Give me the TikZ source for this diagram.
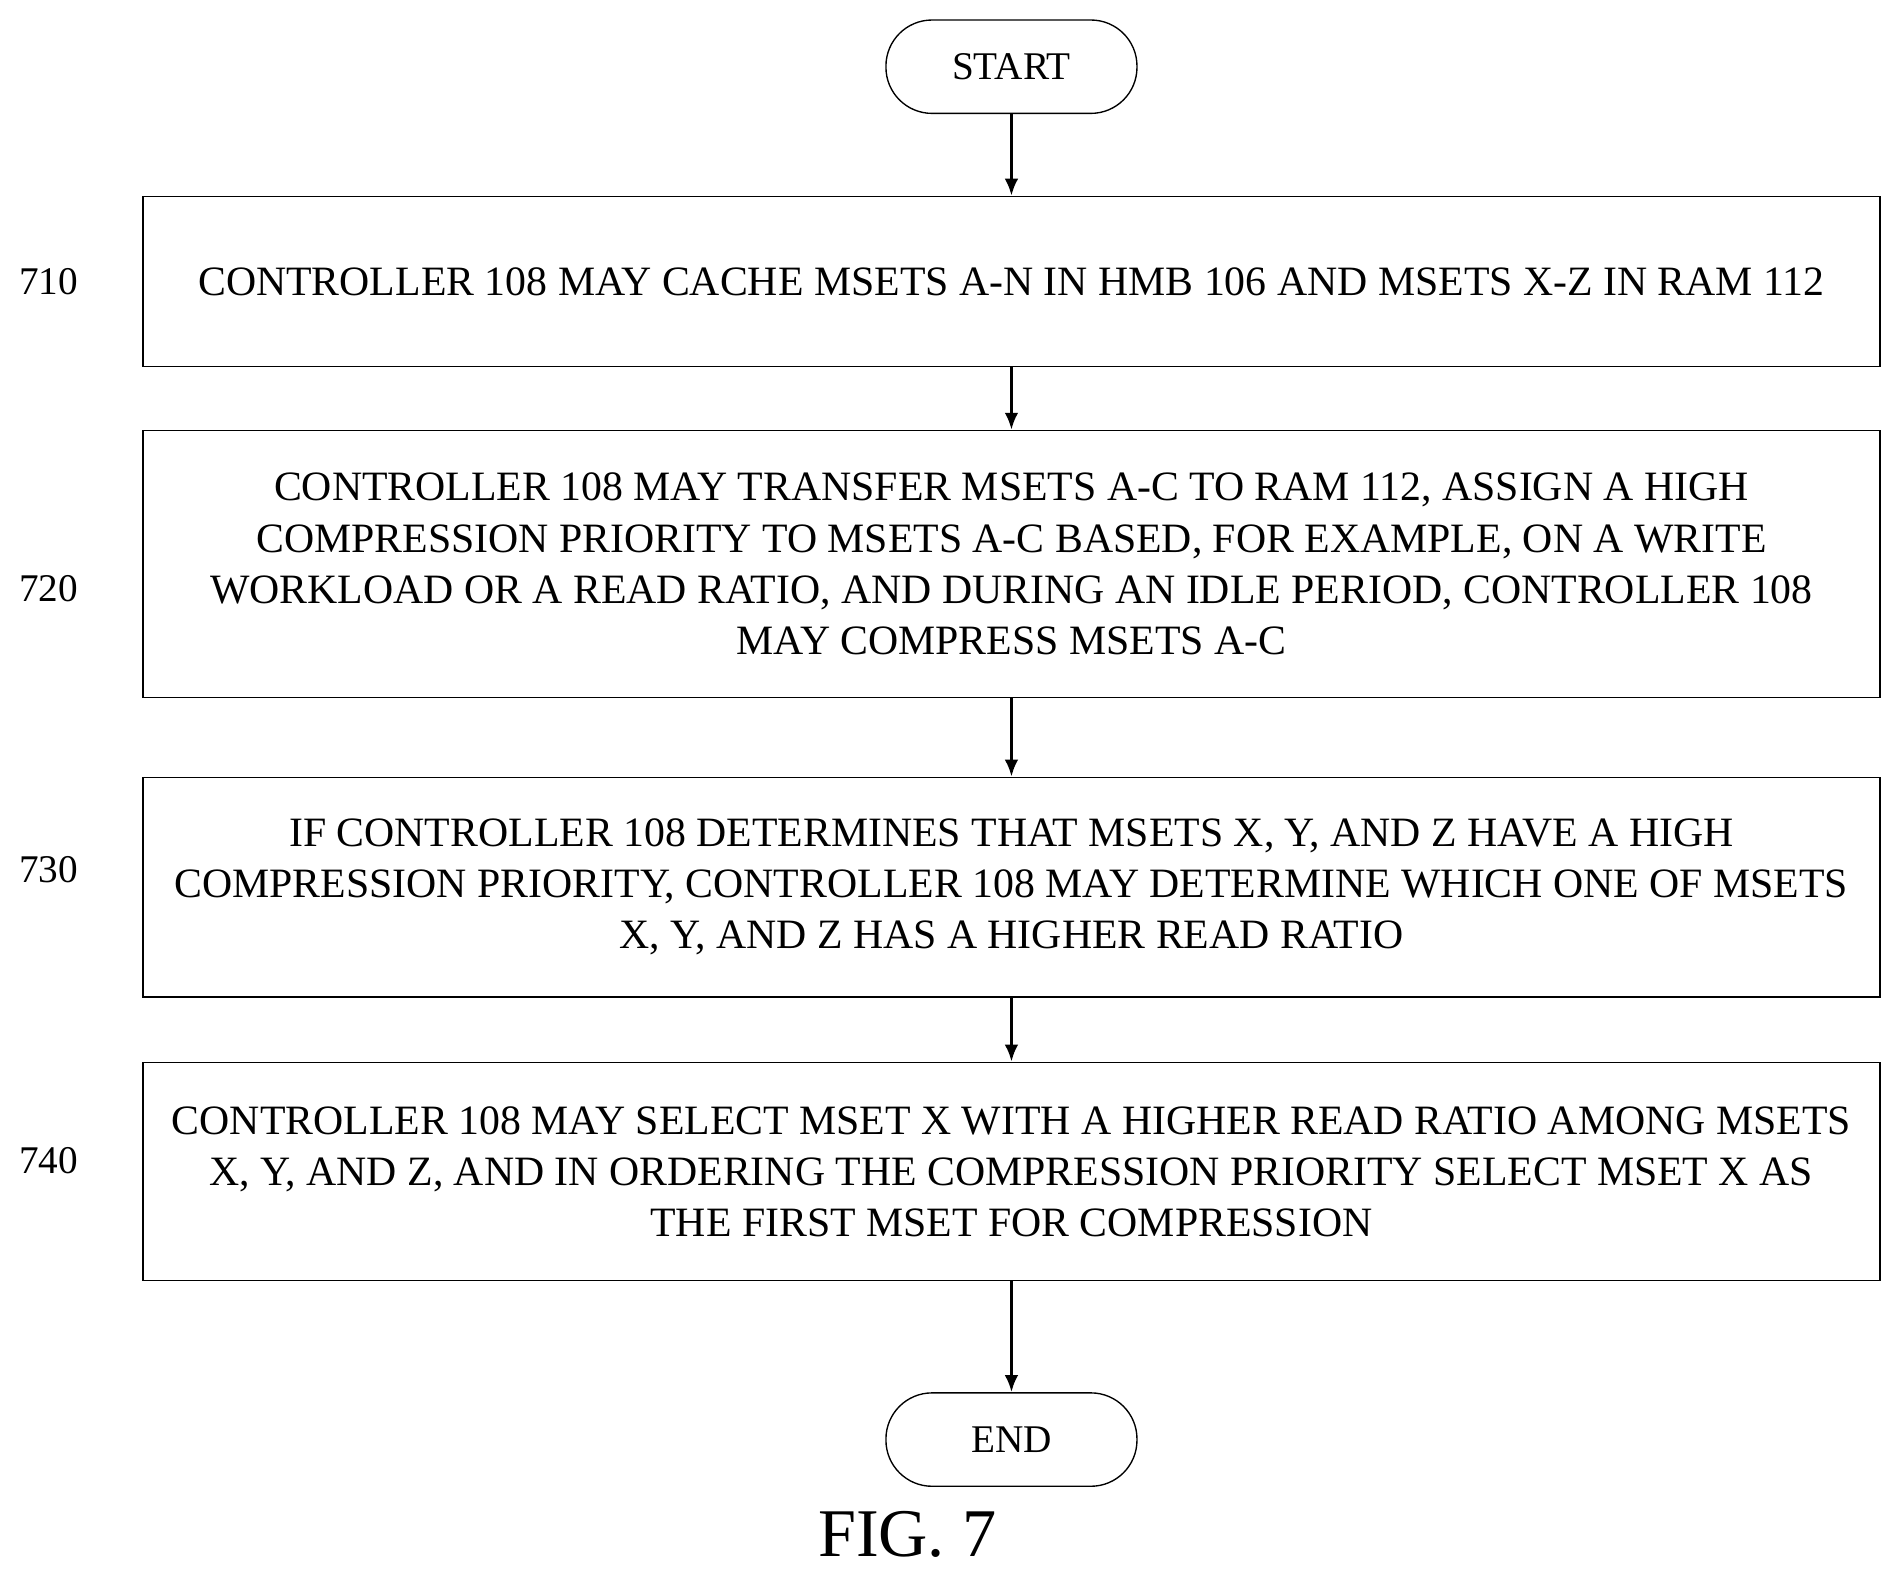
\documentclass[tikz,border=0pt]{standalone}
\usepackage{fontspec}
\setmainfont{Liberation Serif}
\usetikzlibrary{arrows.meta}
\begin{document}
\begin{tikzpicture}[x=0.025cm,y=-0.025cm,
 box/.style={draw,line width=0.8pt,minimum width=1432*0.025cm,align=center,inner sep=0pt,font=\fontsize{24.5}{30}\selectfont},
 term/.style={draw,line width=0.8pt,rounded corners=0.95cm,minimum width=207*0.025cm,minimum height=77*0.025cm,font=\fontsize{23}{26}\selectfont},
 lab/.style={font=\fontsize{23}{26}\selectfont},
 arr/.style={-{Latex[length=10pt,width=8pt]},line width=1.8pt}]
\useasboundingbox (0,0) rectangle (1565,1299);
\node[term] (s) at (834,55) {START};
\node[box,minimum height=140*0.025cm] (b1) at (834,232) {CONTROLLER 108 MAY CACHE MSETS A-N IN HMB 106 AND MSETS X-Z IN RAM 112};
\node[box,minimum height=220*0.025cm] (b2) at (834,465) {CONTROLLER 108 MAY TRANSFER MSETS A-C TO RAM 112, ASSIGN A HIGH\\COMPRESSION PRIORITY TO MSETS A-C BASED, FOR EXAMPLE, ON A WRITE\\WORKLOAD OR A READ RATIO, AND DURING AN IDLE PERIOD, CONTROLLER 108\\MAY COMPRESS MSETS A-C};
\node[box,minimum height=181*0.025cm] (b3) at (834,731.5) {IF CONTROLLER 108 DETERMINES THAT MSETS X, Y, AND Z HAVE A HIGH\\COMPRESSION PRIORITY, CONTROLLER 108 MAY DETERMINE WHICH ONE OF MSETS\\X, Y, AND Z HAS A HIGHER READ RATIO};
\node[box,minimum height=180*0.025cm] (b4) at (834,966) {CONTROLLER 108 MAY SELECT MSET X WITH A HIGHER READ RATIO AMONG MSETS\\X, Y, AND Z, AND IN ORDERING THE COMPRESSION PRIORITY SELECT MSET X AS\\THE FIRST MSET FOR COMPRESSION};
\node[term] (e) at (834,1187) {END};
\node[lab] (l1) at (40,232) {710};
\node[lab] (l2) at (40,485) {720};
\node[lab] (l3) at (40,717) {730};
\node[lab] (l4) at (40,957) {740};
\node[font=\fontsize{40}{48}\selectfont] (fig) at (748,1265) {FIG. 7};
\draw[arr] (s) -- (b1);
\draw[arr] (b1) -- (b2);
\draw[arr] (b2) -- (b3);
\draw[arr] (b3) -- (b4);
\draw[arr] (b4) -- (e);
\end{tikzpicture}
\end{document}
